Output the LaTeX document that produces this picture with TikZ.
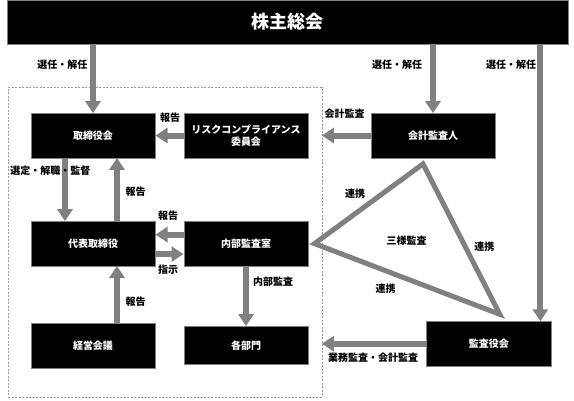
\documentclass[tikz,border=0pt]{standalone}
\usepackage{fontspec}
\newfontfamily\jp{Noto Sans CJK JP}
\usepackage{tikz}
\usetikzlibrary{arrows.meta}
\usetikzlibrary{positioning}
\definecolor{linegray}{RGB}{128,128,128}
\tikzset{
    organ/.style={
      rectangle,
           draw=gray, fill=black, thin,
           text=white,
           font=\jp\bfseries\fontsize{10}{12}\selectfont,
           inner sep=2pt,
           text centered, align=center,
           minimum width=124.6pt,
           minimum height=44.4pt,
           },
}
\tikzset{
    tag/.style={
           font=\jp\bfseries\fontsize{10}{12}\selectfont,
           inner sep=0pt,
           },
}
\tikzset{
    flow/.style={
           draw=linegray, line width=6pt,
           -{Triangle[width=15pt,length=12pt]},
           },
}

\begin{document}
\begin{tikzpicture}[x=1pt,y=-1pt]

\useasboundingbox (0,0) rectangle (574,400);

% company frame
\node[draw=gray!80, dashed, dash pattern=on 2pt off 1.5pt, inner sep=0pt,
      minimum width=313.7pt, minimum height=309.4pt](frame) at (164.85,242){};

\node[organ, minimum width=561pt, minimum height=43.5pt,
      font=\jp\bfseries\fontsize{18}{21}\selectfont](gms) at (287.8,22){株主総会};

\node[organ](tor) at (93,135.5){取締役会};
\node[organ,right = 28pt of tor](rcc){リスクコンプライアンス\\委員会};
\node[organ](aud) at (433,135.5){会計監査人};

\node[organ,below = 63.3pt of tor](ceo){代表取締役};
\node[organ,right = 28pt of ceo](ias){内部監査室};

\node[organ,below = 57.4pt of ceo](mgt){経営会議};
\node[organ,minimum height=38pt,below = 60pt of ias](dep){各部門};
\node[organ](kan) at (488.8,343.7){監査役会};

% election
\coordinate (kantop) at ([xshift=-11pt]kan.north east);
\path (gms.south -| tor.north) edge[flow](tor.north);
\path (gms.south -| aud.north) edge[flow](aud.north);
\path (gms.south -| kantop) edge[flow](kantop);

\node[tag](sel1) at (62.5,65){選任・解任};
\node[tag](sel2) at (397,65){選任・解任};
\node[tag](sel3) at (511,65){選任・解任};

% inside the company
\path (rcc) edge[flow](tor);
\path ([xshift=-28pt]tor.south) edge[flow]([xshift=-28pt]ceo.north);
\path ([xshift=24pt]ceo.north) edge[flow]([xshift=24pt]tor.south);
\path ([yshift=9pt]ias.west) edge[flow]([yshift=9pt]ceo.east);
\path ([yshift=-10.5pt]ceo.east) edge[flow]([yshift=-10.5pt]ias.west);
\path ([xshift=24pt]mgt.north) edge[flow]([xshift=24pt]ceo.south);
\path (ias) edge[flow](dep);

\node[tag](rep1) at (170,117.7){報告};
\node[tag](sup) at (50.3,170.7){選定・解職・監督};
\node[tag](rep2) at (135.5,192){報告};
\node[tag](rep3) at (168,216){報告};
\node[tag](ord) at (168,269.3){指示};
\node[tag](rep4) at (135.5,301.7){報告};
\node[tag](iad) at (273,281.7){内部監査};

% auditors
\path (aud.west) edge[flow](aud.west -| frame.east);
\path (kan.west) edge[flow](kan.west -| frame.east);
\node[tag](acc) at (344.5,114){会計監査};
\node[tag](bus) at (373,358){業務監査・会計監査};

\draw[linegray, line width=5pt, line join=miter]
  ([xshift=6pt]ias.east) -- ([xshift=-10pt,yshift=-6pt]aud.south)
  -- ([xshift=11pt,yshift=7pt]kan.north) -- cycle;

\node[tag](co1) at (355,194){連携};
\node[tag](three) at (406.7,241){三様監査};
\node[tag](co2) at (484.3,246.7){連携};
\node[tag](co3) at (385.7,288.3){連携};

\end{tikzpicture}
\end{document}
